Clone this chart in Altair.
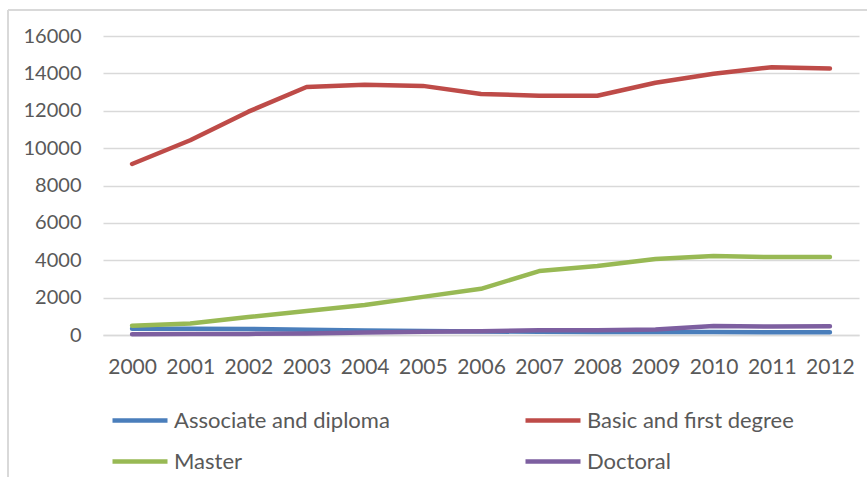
import altair as alt
import pandas as pd

years = [str(y) for y in range(2000, 2013)]
associate = [330, 340, 320, 280, 240, 210, 190, 170, 160, 160, 160, 150, 150]
basic = [9150, 10420, 11950, 13270, 13390, 13330, 12900, 12800, 12800, 13500, 13980, 14330, 14260]
master = [500, 620, 960, 1280, 1610, 2040, 2470, 3420, 3690, 4070, 4230, 4170, 4170]
doctoral = [40, 50, 60, 80, 130, 170, 200, 250, 250, 290, 480, 450, 470]

series = ["Associate and diploma", "Basic and first degree", "Master", "Doctoral"]
colors = ["#4A7EBB", "#BE4B48", "#98B954", "#7D5FA0"]

rows = []
for name, vals in zip(series, [associate, basic, master, doctoral]):
    for yr, v in zip(years, vals):
        rows.append({"Year": yr, "Value": v, "Level": name})
df = pd.DataFrame(rows)

FONT = "Lato"
TEXT = "#595959"
FS = 20

lines = alt.Chart(df).mark_line(strokeWidth=4.5, strokeCap="round", strokeJoin="round").encode(
    x=alt.X("Year:O", sort=years, title=None,
            scale=alt.Scale(type="point", padding=0.5),
            axis=alt.Axis(labelAngle=0, ticks=False, domain=True, domainColor="#D9D9D9",
                          domainWidth=1.5, labelPadding=21, labelFontSize=21, labelColor=TEXT,
                          labelFont=FONT, grid=False)),
    y=alt.Y("Value:Q", title=None,
            scale=alt.Scale(domain=[0, 16000], nice=False),
            axis=alt.Axis(values=list(range(0, 16001, 2000)), format="d", ticks=False,
                          domain=False, labelPadding=22, labelFontSize=FS, labelColor=TEXT,
                          labelFont=FONT, gridColor="#D9D9D9", gridWidth=1.5)),
    color=alt.Color("Level:N", sort=series,
                    scale=alt.Scale(domain=series, range=colors),
                    legend=alt.Legend(title=None, orient="none", legendX=7, legendY=354.5,
                                      direction="horizontal", columns=2,
                                      symbolType="stroke", symbolSize=3025,
                                      symbolStrokeWidth=4.5, labelFontSize=22, labelFont=FONT,
                                      labelColor=TEXT, labelOffset=4, columnPadding=126,
                                      rowPadding=-11, labelLimit=400)),
)

# outer frame around the whole chart
frame = alt.Chart(df).mark_rule(color="#D9D9D9", strokeWidth=1.5).encode(
    x=alt.value(-95), x2=alt.value(-95), y=alt.value(-26), y2=alt.value(450)
)
frame_top = alt.Chart(df).mark_rule(color="#D9D9D9", strokeWidth=1.5).encode(
    x=alt.value(-95), x2=alt.value(780), y=alt.value(-26), y2=alt.value(-26)
)

chart = alt.layer(frame, frame_top, lines).properties(
    width=756, height=299,
    padding={"left": 103, "top": 36, "right": 8, "bottom": 142},
    autosize=alt.AutoSizeParams(type="none"),
    background="white",
).configure_view(stroke=None)

chart.save("out.html", embed_options={"renderer": "svg", "actions": False})
